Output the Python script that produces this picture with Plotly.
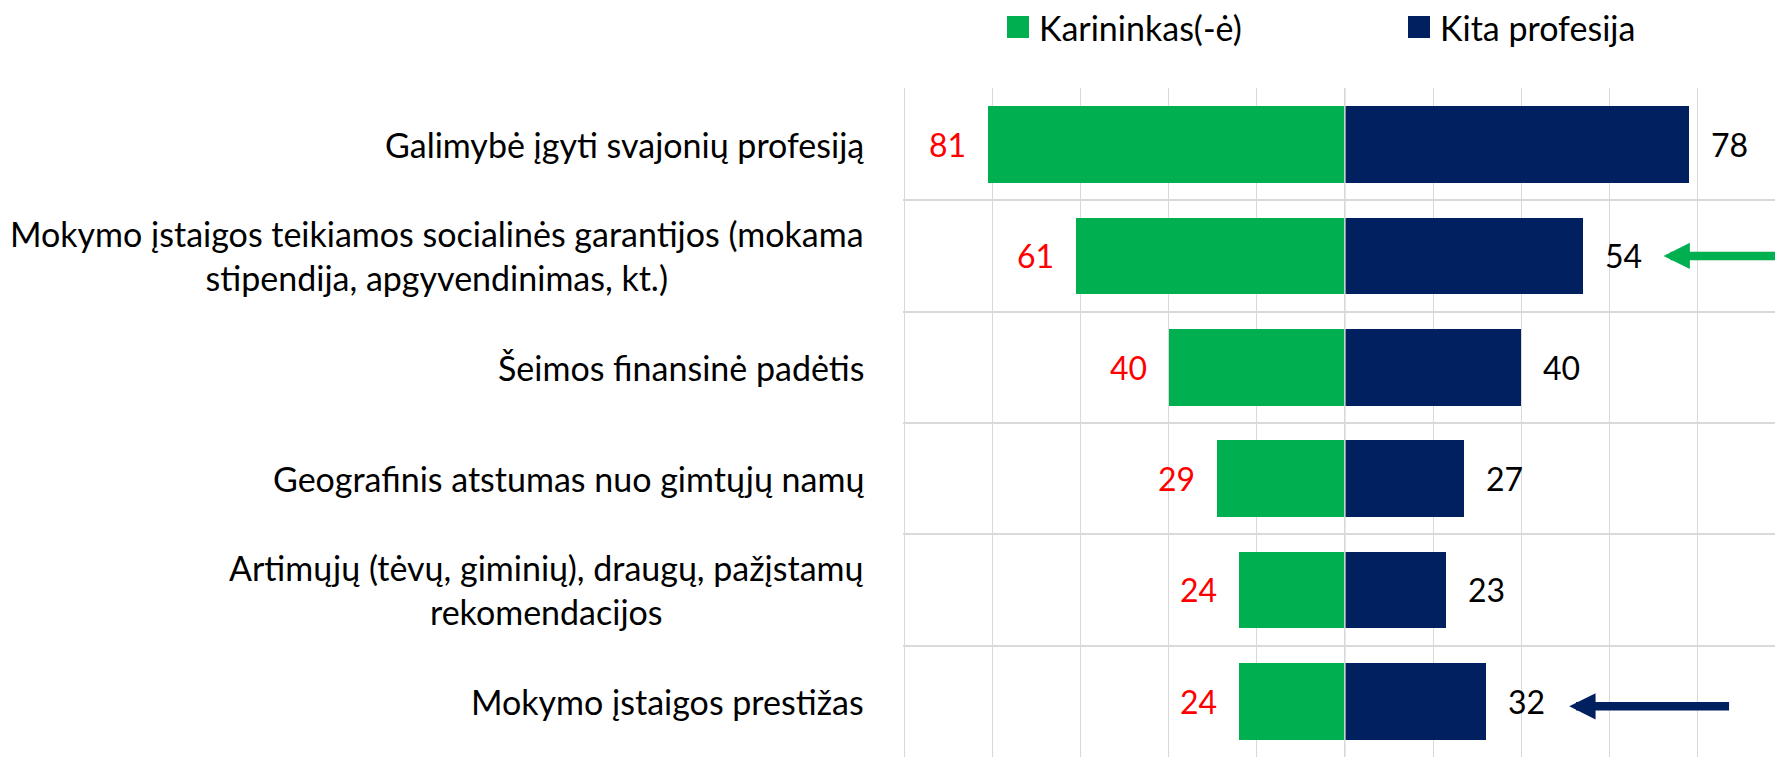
import plotly.graph_objects as go

categories = [
    "Galimybė įgyti svajonių profesiją",
    "Mokymo įstaigos teikiamos socialinės garantijos (mokama<br>stipendija, apgyvendinimas, kt.)",
    "Šeimos finansinė padėtis",
    "Geografinis atstumas nuo gimtųjų namų",
    "Artimųjų (tėvų, giminių), draugų, pažįstamų<br>rekomendacijos",
    "Mokymo įstaigos prestižas",
]
karininkas = [81, 61, 40, 29, 24, 24]
kita = [78, 54, 40, 27, 23, 32]
series_names = ["Karininkas(-ė)", "Kita profesija"]

GREEN = "#00B050"
NAVY = "#002060"
GRID = "#D9D9D9"
FONT = "Lato"

# page has an 8px body margin; figure sized to fit the 1783x757 viewport
OFF = 8
W, H = 1783 - OFF, 757 - OFF
ML, MT = 903 - OFF, 88 - OFF
PW, PH = W - ML, H - MT

pos = list(range(len(categories)))

fig = go.Figure()
fig.add_trace(go.Bar(y=pos, x=[-v for v in karininkas], orientation="h",
                     marker=dict(color=GREEN, line=dict(width=0)), width=0.69,
                     name=series_names[0], showlegend=False))
fig.add_trace(go.Bar(y=pos, x=kita, orientation="h",
                     marker=dict(color=NAVY, line=dict(width=0)), width=0.69,
                     name=series_names[1], showlegend=False))

ann = []
# category labels
for i, c in enumerate(categories):
    ann.append(dict(x=0, xref="paper", y=i, yref="y", text=c, showarrow=False,
                    xanchor="right", yanchor="middle", align="center", xshift=-37,
                    font=dict(family=FONT, size=34, color="#000000")))
# value labels
for i, v in enumerate(karininkas):
    ann.append(dict(x=-v, y=i, text=str(v), showarrow=False, xanchor="right",
                    yanchor="middle", xshift=-20,
                    font=dict(family=FONT, size=32, color="#FF0000")))
for i, v in enumerate(kita):
    ann.append(dict(x=v, y=i, text=str(v), showarrow=False, xanchor="left",
                    yanchor="middle", xshift=20,
                    font=dict(family=FONT, size=32, color="#000000")))

# highlight arrows
ann.append(dict(x=kita[1] + 18.3, y=1, ax=99.4, ay=1, axref="x", ayref="y",
                text="", showarrow=True, arrowhead=2, arrowsize=0.62,
                arrowwidth=8.5, arrowcolor=GREEN, standoff=0))
ann.append(dict(x=kita[5] + 18.9, y=5.045, ax=87.5, ay=5.045, axref="x", ayref="y",
                text="", showarrow=True, arrowhead=2, arrowsize=0.62,
                arrowwidth=8.5, arrowcolor=NAVY, standoff=0))

# legend (manual), positions given in page pixels
def px_x(p):
    return (p - OFF - ML) / PW

def px_y(p):
    return (H - (p - OFF)) / PH

shapes = []
leg = [(1007, GREEN, series_names[0]), (1408, NAVY, series_names[1])]
for x0, col, name in leg:
    shapes.append(dict(type="rect", xref="paper", yref="paper",
                       x0=px_x(x0), x1=px_x(x0 + 22), y0=px_y(38), y1=px_y(16),
                       fillcolor=col, line=dict(width=0)))
    ann.append(dict(x=px_x(x0 + 30), y=px_y(27), xref="paper", yref="paper",
                    text=name, showarrow=False, xanchor="left", yanchor="middle",
                    font=dict(family=FONT, size=34, color="#000000")))

# zero line above bars
shapes.append(dict(type="line", xref="x", yref="paper", x0=0, x1=0, y0=0, y1=1,
                   line=dict(color=GRID, width=1.5), layer="above"))

fig.update_layout(
    width=W, height=H,
    margin=dict(l=ML, r=0, t=MT, b=0, pad=0),
    paper_bgcolor="white", plot_bgcolor="white",
    barmode="overlay", bargap=0,
    showlegend=False,
    annotations=ann, shapes=shapes,
    font=dict(family=FONT),
)
fig.update_xaxes(range=[-100.25, 99.4], tickvals=list(range(-100, 101, 20)),
                 showticklabels=False, showgrid=True, gridcolor=GRID, gridwidth=1.3,
                 zeroline=False, showline=False, fixedrange=True)
fig.update_yaxes(range=[len(categories) - 0.5, -0.508],
                 tickvals=[i - 0.5 for i in range(len(categories) + 1)],
                 showticklabels=False, showgrid=True, gridcolor=GRID, gridwidth=2,
                 zeroline=False, showline=False, fixedrange=True)

fig.write_html("out.html")
